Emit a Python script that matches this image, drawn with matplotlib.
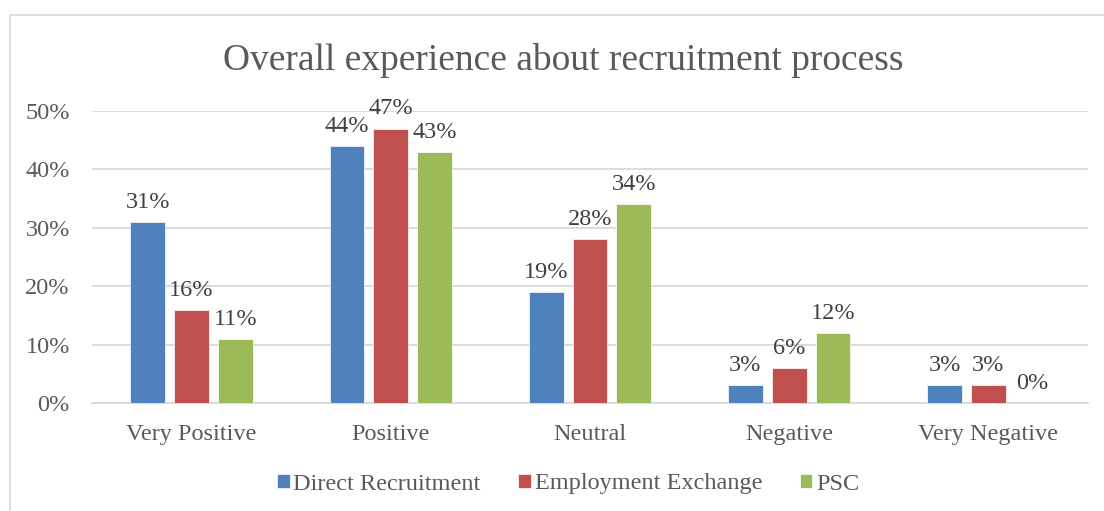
import matplotlib
matplotlib.use("Agg")
import matplotlib.pyplot as plt
from matplotlib.patches import Rectangle
from matplotlib.ticker import PercentFormatter
import numpy as np

categories = ["Very Positive", "Positive", "Neutral", "Negative", "Very Negative"]
series_names = ["Direct Recruitment", "Employment Exchange", "PSC"]
direct = [31, 44, 19, 3, 3]
exchange = [16, 47, 28, 6, 3]
psc = [11, 43, 34, 12, 0]
colors = ["#4F81BD", "#C0504D", "#9BBB59"]
yticks = [0, 10, 20, 30, 40, 50]

plt.rcParams["font.family"] = ["Liberation Serif", "DejaVu Serif"]
text_color = "#595959"
fs = 17.5

fig = plt.figure(figsize=(11.04, 5.11), dpi=100)
ax = fig.add_axes([92 / 1104, 108 / 511, 996 / 1104, 292 / 511])

# chart frame
fig.patches.append(Rectangle((10 / 1104, -0.1), 1.2, (511 - 15) / 511 + 0.1,
                             transform=fig.transFigure, fill=False,
                             edgecolor="#D9D9D9", linewidth=1.2))

x = np.arange(len(categories))
width = 0.175
step = 0.22
for i, (vals, name, col) in enumerate(zip([direct, exchange, psc], series_names, colors)):
    pos = x + (i - 1) * step
    bars = ax.bar(pos, vals, width=width, color=col, label=name,
                  edgecolor="white", linewidth=0.5, zorder=3)
    for b, v in zip(bars, vals):
        ax.annotate(f"{v}%", (b.get_x() + b.get_width() / 2, v),
                    xytext=(0, 6.5), textcoords="offset points",
                    ha="center", va="bottom", fontsize=fs,
                    color="#404040", annotation_clip=False)

ax.set_xlim(-0.5, len(categories) - 0.5)
ax.set_ylim(0, 50)
ax.set_yticks(yticks)
ax.yaxis.set_major_formatter(PercentFormatter(decimals=0))
ax.set_xticks(x)
ax.set_xticklabels(categories)
ax.grid(axis="y", color="#D9D9D9", linewidth=1.3, zorder=0)
for s in ["top", "right", "left"]:
    ax.spines[s].set_visible(False)
ax.spines["bottom"].set_color("#D9D9D9")
ax.spines["bottom"].set_linewidth(1.3)
ax.tick_params(axis="both", length=0, labelsize=fs, labelcolor=text_color)
ax.tick_params(axis="y", pad=16)
ax.tick_params(axis="x", pad=15)

fig.text(563 / 1104, 1 - 60 / 511, "Overall experience about recruitment process",
         ha="center", va="center", fontsize=27, color=text_color)

leg = fig.legend(loc="center", bbox_to_anchor=(568 / 1104, 1 - 484 / 511),
                 ncol=3, frameon=False, fontsize=fs, handlelength=0.52,
                 handleheight=0.52, handletextpad=0.15, columnspacing=1.55)
for t in leg.get_texts():
    t.set_color(text_color)

fig.savefig("out.png", dpi=100)
